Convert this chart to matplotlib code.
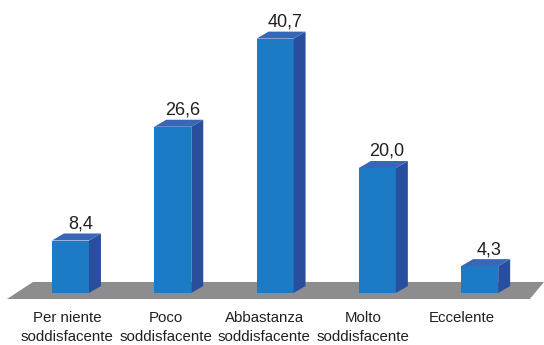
import matplotlib
matplotlib.use("Agg")
import matplotlib.pyplot as plt
from matplotlib.patches import Polygon

categories = ["Per niente\nsoddisfacente", "Poco\nsoddisfacente", "Abbastanza\nsoddisfacente",
              "Molto\nsoddisfacente", "Eccelente"]
values = [8.4, 26.6, 40.7, 20.0, 4.3]
value_labels = ["8,4", "26,6", "40,7", "20,0", "4,3"]

plt.rcParams['font.family'] = ['Liberation Sans', 'DejaVu Sans']

FRONT = "#1c7bc4"
SIDE = "#2a4e9e"
TOP = "#3767b6"
FLOOR = "#8d8d90"
TEXT = "#231f20"

fig = plt.figure(figsize=(5.44, 3.45), dpi=100)
ax = fig.add_axes([0, 0, 1, 1])
ax.set_xlim(-0.689, 4.629)
ax.set_ylim(-8.32, 46.88)
ax.axis("off")

w = 0.362      # bar width (category units)
dx = 0.117     # depth offset in x
dy = 1.12      # depth offset in y (value units)

# floor of the 3D box
floor = Polygon([(-0.621, -0.96), (4.49, -0.96), (4.629, 1.76), (-0.367, 1.76)],
                closed=True, facecolor=FLOOR, edgecolor="none", zorder=1)
ax.add_patch(floor)

xs = list(range(len(values)))
ax.bar(xs, values, width=w, color=FRONT, zorder=3, linewidth=0)

for x, v, lab in zip(xs, values, value_labels):
    r = x + w / 2
    l = x - w / 2
    side = Polygon([(r, 0), (r + dx, dy), (r + dx, v + dy), (r, v)],
                   closed=True, facecolor=SIDE, edgecolor="none", zorder=3)
    top = Polygon([(l, v), (r, v), (r + dx, v + dy), (l + dx, v + dy)],
                  closed=True, facecolor=TOP, edgecolor="none", zorder=3)
    ax.add_patch(side)
    ax.add_patch(top)
    ax.annotate(lab, (x + 0.095, v + dy), xytext=(0, 3.6), textcoords="offset points",
                ha="center", va="baseline", fontsize=13, color=TEXT)

# category labels along the front edge of the floor
for i, cat in enumerate(categories):
    ax.annotate(cat, (-0.034 + 0.965 * i, -2.8), ha="center", va="top",
                fontsize=10.8, color=TEXT, linespacing=1.5)

fig.savefig("out.png", dpi=100)
